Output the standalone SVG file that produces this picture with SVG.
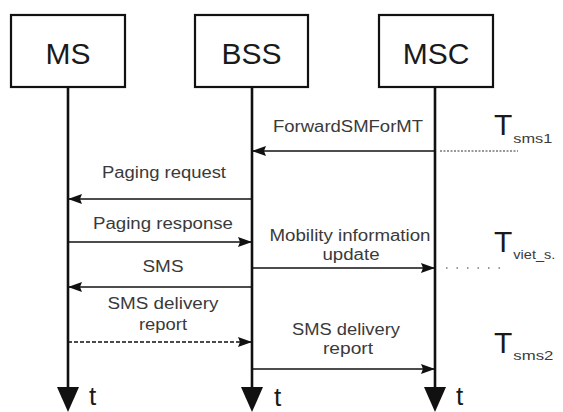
<svg xmlns="http://www.w3.org/2000/svg" width="563" height="412" viewBox="0 0 563 412">
  <style>
    .box { fill: #ffffff; stroke: #111111; stroke-width: 2.2; }
    .name { font-family: "Liberation Sans", Arial, sans-serif; font-size: 30px; fill: #1a1a1a; text-anchor: middle; }
    .life { stroke: #111111; stroke-width: 2.6; fill: none; }
    .msg { stroke: #111111; stroke-width: 1.6; fill: none; }
    .dash { stroke-dasharray: 4 2; }
    .lbl { font-family: "Liberation Sans", Arial, sans-serif; font-size: 16px; fill: #3a3a3a; text-anchor: middle; }
    .tick { font-family: "Liberation Sans", Arial, sans-serif; font-size: 26px; fill: #1a1a1a; }
    .timer { font-family: "Liberation Sans", Arial, sans-serif; font-size: 30px; fill: #1a1a1a; }
    .sub { font-family: "Liberation Sans", Arial, sans-serif; font-size: 13px; fill: #3a3a3a; }
    .guide { stroke: #777777; stroke-width: 1.3; fill: none; }
  </style>
  <defs>
    <marker id="head" viewBox="0 0 14 10" refX="13" refY="5" markerWidth="14" markerHeight="10" markerUnits="userSpaceOnUse" orient="auto">
      <path d="M0,0 L14,5 L0,10 L2,5 z" fill="#111111"/>
    </marker>
  </defs>

  <!-- entities with their lifelines -->
  <g id="ms">
    <rect class="box" x="11" y="15" width="114" height="72"/>
    <text class="name" x="68" y="64">MS</text>
    <line class="life" x1="68" y1="87" x2="68" y2="392"/>
    <polygon points="57,387 79,387 68,412" fill="#111111"/>
    <text class="tick" x="89" y="405">t</text>
  </g>
  <g id="bss">
    <rect class="box" x="195" y="15" width="113" height="72"/>
    <text class="name" x="251.5" y="64">BSS</text>
    <line class="life" x1="252" y1="87" x2="252" y2="392"/>
    <polygon points="241,387 263,387 252,412" fill="#111111"/>
    <text class="tick" x="274" y="406">t</text>
  </g>
  <g id="msc">
    <rect class="box" x="379" y="15" width="114" height="72"/>
    <text class="name" x="436" y="64">MSC</text>
    <line class="life" x1="435" y1="87" x2="435" y2="392"/>
    <polygon points="424,387 446,387 435,412" fill="#111111"/>
    <text class="tick" x="456" y="405">t</text>
  </g>

  <!-- messages -->
  <g id="connectors">
    <line class="msg" x1="435" y1="151" x2="253" y2="151" marker-end="url(#head)"/>
    <line class="msg" x1="252" y1="199" x2="69" y2="199" marker-end="url(#head)"/>
    <line class="msg" x1="68" y1="242" x2="251" y2="242" marker-end="url(#head)"/>
    <line class="msg" x1="252" y1="268" x2="434" y2="268" marker-end="url(#head)"/>
    <line class="msg" x1="252" y1="287" x2="69" y2="287" marker-end="url(#head)"/>
    <line class="msg dash" x1="68" y1="342" x2="251" y2="342" marker-end="url(#head)"/>
    <line class="msg" x1="252" y1="369" x2="434" y2="369" marker-end="url(#head)"/>
    <!-- timer guides -->
    <line class="guide" x1="440" y1="151" x2="518" y2="151" stroke-dasharray="2 1.5"/>
    <line class="guide" x1="446" y1="268" x2="500" y2="268" stroke-dasharray="1.5 9"/>
  </g>

  <!-- message labels -->
  <g id="labels">
    <text class="lbl" x="348" y="132" textLength="150" lengthAdjust="spacingAndGlyphs">ForwardSMForMT</text>
    <text class="lbl" x="164" y="178" textLength="124" lengthAdjust="spacingAndGlyphs">Paging request</text>
    <text class="lbl" x="163" y="229" textLength="140" lengthAdjust="spacingAndGlyphs">Paging response</text>
    <text class="lbl" x="350" y="241" textLength="161" lengthAdjust="spacingAndGlyphs">Mobility information</text>
    <text class="lbl" x="351" y="260" textLength="57" lengthAdjust="spacingAndGlyphs">update</text>
    <text class="lbl" x="163" y="272" textLength="41" lengthAdjust="spacingAndGlyphs">SMS</text>
    <text class="lbl" x="163" y="309" textLength="111" lengthAdjust="spacingAndGlyphs">SMS delivery</text>
    <text class="lbl" x="163" y="330" textLength="48" lengthAdjust="spacingAndGlyphs">report</text>
    <text class="lbl" x="346" y="335" textLength="108" lengthAdjust="spacingAndGlyphs">SMS delivery</text>
    <text class="lbl" x="348" y="354" textLength="50" lengthAdjust="spacingAndGlyphs">report</text>
  </g>

  <!-- timers -->
  <g id="timers">
    <text x="494" y="135"><tspan class="timer">T</tspan><tspan class="sub" dx="1" dy="8" textLength="39" lengthAdjust="spacingAndGlyphs">sms1</tspan></text>
    <text x="494" y="252"><tspan class="timer">T</tspan><tspan class="sub" dx="1" dy="7" textLength="42" lengthAdjust="spacingAndGlyphs">viet_s.</tspan></text>
    <text x="494" y="353"><tspan class="timer">T</tspan><tspan class="sub" dx="1" dy="7" textLength="40" lengthAdjust="spacingAndGlyphs">sms2</tspan></text>
  </g>
</svg>
